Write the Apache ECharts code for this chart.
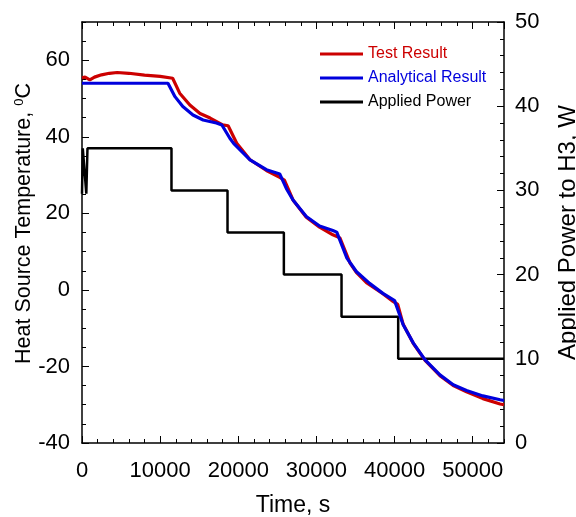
<!DOCTYPE html>
<html>
<head>
<meta charset="utf-8">
<title>Heat Source Temperature</title>
<script src="https://cdn.jsdelivr.net/npm/echarts@6/dist/echarts.min.js"></script>
<style>
  html, body { margin: 0; padding: 0; background: #fff; }
  #main { width: 576px; height: 517px; }
</style>
</head>
<body>
<div id="main"></div>
<script type="text/javascript">
// test result (measured)
var testTime = [0, 400, 1000, 1600, 2500, 3500, 4500, 6000, 8000, 10000,
  11600, 12500, 13800, 15100, 16400, 18000, 18700, 19800, 21500, 23600,
  25300, 25900, 27000, 28700, 30400, 32100, 33000, 34300, 35100, 36400,
  38500, 39800, 40400, 41100, 42400, 43900, 45800, 47500, 49200, 51300,
  53500, 54000];
var testTemp = [55.4, 55.6, 54.9, 55.6, 56.2, 56.6, 56.8, 56.6, 56.1, 55.8,
  55.3, 51.4, 48.3, 46.1, 44.9, 43.1, 42.9, 38.3, 34.0, 31.2,
  29.4, 28.7, 23.5, 19.0, 16.4, 14.4, 13.6, 7.0, 4.6, 1.9,
  -1.0, -3.0, -3.8, -9.0, -14.0, -18.4, -22.4, -25.0, -26.6, -28.4,
  -29.8, -30.0];

// analytical result
var anaTime = [0, 11000, 11900, 12900, 14200, 15500, 17200, 17900, 18900, 19400,
  21500, 23600, 25300, 26200, 27000, 28700, 30400, 32100, 32600, 33900, 35100,
  36800, 38500, 40000, 41100, 42400, 43900, 45800, 47500, 49200, 51300,
  53500, 54000];
var anaTemp = [54.0, 54.0, 50.5, 47.9, 45.7, 44.4, 43.6, 43.1, 39.7, 38.3,
  34.0, 31.4, 30.3, 26.3, 23.5, 19.2, 16.7, 15.5, 15.1, 8.3, 4.8,
  1.7, -0.9, -2.8, -9.1, -13.9, -18.3, -22.2, -24.8, -26.3, -27.7,
  -28.7, -28.9];

// applied power (step profile)
var powerTime = [0, 100, 550, 700, 11450, 11450, 18620, 18620, 25830, 25830, 33210, 33210, 40460, 40460, 54000];
var powerValue = [29.6, 35, 29.6, 35, 35, 30, 30, 25, 25, 20, 20, 15, 15, 10, 10];

function zip(a, b) {
  var out = [];
  for (var i = 0; i < a.length; i++) out.push([a[i], b[i]]);
  return out;
}

var FONT = "'Liberation Sans', Arial, sans-serif";
var RED = '#cc0000', BLUE = '#0000dd', BLACK = '#000000';

var myChart = echarts.init(document.getElementById('main'));

// extra axes that only carry tick marks (minor ticks, top mirror)
var tickAxis = function (pos, interval, len, showLine) {
  return {
    type: 'value', position: pos, min: 0, max: 54000, interval: interval,
    axisLine: { show: showLine, onZero: false, lineStyle: { color: '#000', width: 1.5 } },
    axisTick: { show: true, inside: true, length: len, lineStyle: { color: '#000', width: 1 } },
    axisLabel: { show: false },
    splitLine: { show: false }
  };
};

var option = {
  animation: false,
  backgroundColor: '#fff',
  textStyle: { fontFamily: FONT },
  grid: { left: 82, right: 72, top: 22, bottom: 74, containLabel: false, outerBoundsMode: 'none' },
  legend: {
    orient: 'vertical',
    left: 315, top: 41,
    icon: 'rect',
    itemWidth: 43, itemHeight: 3, itemGap: 8,
    textStyle: { fontFamily: FONT, fontSize: 16 },
    data: [
      { name: 'Test Result', textStyle: { color: RED } },
      { name: 'Analytical Result', textStyle: { color: BLUE } },
      { name: 'Applied Power', textStyle: { color: BLACK } }
    ]
  },
  xAxis: [
    {
      type: 'value', position: 'bottom', min: 0, max: 54000, interval: 10000,
      name: 'Time, s', nameLocation: 'middle', nameGap: 51, nameMoveOverlap: false,
      nameTextStyle: { fontFamily: FONT, fontSize: 23, color: '#000' },
      axisLine: { onZero: false, lineStyle: { color: '#000', width: 1.5 } },
      axisTick: { inside: true, length: 7, lineStyle: { color: '#000' } },
      axisLabel: {
        showMaxLabel: false, margin: 17, fontFamily: FONT, fontSize: 22, color: '#000',
        formatter: function (v) { return String(v); }
      },
      splitLine: { show: false }
    },
    tickAxis('bottom', 2000, 4, false),
    tickAxis('top', 10000, 7, true),
    tickAxis('top', 2000, 4, false)
  ],
  yAxis: [
    {
      type: 'value', position: 'left', min: -40, max: 70, interval: 20,
      name: 'Heat Source Temperature, {sup|0}C', nameLocation: 'middle', nameGap: 47,
      nameMoveOverlap: false,
      nameTextStyle: {
        fontFamily: FONT, fontSize: 21.5, color: '#000', padding: [0, 0, 0, 18],
        rich: { sup: { fontFamily: FONT, fontSize: 13, color: '#000', verticalAlign: 'top', padding: [0, 0, 9, 0] } }
      },
      axisLine: { onZero: false, lineStyle: { color: '#000', width: 1.5 } },
      axisTick: { inside: true, length: 7, lineStyle: { color: '#000' } },
      axisLabel: { showMaxLabel: false, margin: 12, fontFamily: FONT, fontSize: 22, color: '#000' },
      splitLine: { show: false }
    },
    {
      type: 'value', position: 'right', min: 0, max: 50, interval: 10,
      name: 'Applied Power to H3, W', nameLocation: 'middle', nameGap: 52, nameRotate: 90,
      nameMoveOverlap: false,
      nameTextStyle: { fontFamily: FONT, fontSize: 24, color: '#000' },
      axisLine: { onZero: false, lineStyle: { color: '#000', width: 1.5 } },
      axisTick: { inside: true, length: 7, lineStyle: { color: '#000' } },
      minorTick: { show: true, splitNumber: 5, length: 4, lineStyle: { color: '#000' } },
      axisLabel: { margin: 11, fontFamily: FONT, fontSize: 22, color: '#000' },
      splitLine: { show: false }
    },
    {
      type: 'value', position: 'left', min: -40, max: 70, interval: 5,
      axisLine: { show: false, onZero: false },
      axisTick: { inside: true, length: 4, lineStyle: { color: '#000' } },
      axisLabel: { show: false },
      splitLine: { show: false }
    }
  ],
  series: [
    {
      name: 'Applied Power', type: 'line', xAxisIndex: 0, yAxisIndex: 1,
      symbol: 'none', z: 2,
      lineStyle: { color: BLACK, width: 2.5 }, itemStyle: { color: BLACK },
      data: zip(powerTime, powerValue)
    },
    {
      name: 'Test Result', type: 'line', xAxisIndex: 0, yAxisIndex: 0,
      symbol: 'none', z: 3,
      lineStyle: { color: RED, width: 3.2 }, itemStyle: { color: RED },
      data: zip(testTime, testTemp)
    },
    {
      name: 'Analytical Result', type: 'line', xAxisIndex: 0, yAxisIndex: 0,
      symbol: 'none', z: 4,
      lineStyle: { color: BLUE, width: 3.2 }, itemStyle: { color: BLUE },
      data: zip(anaTime, anaTemp)
    }
  ]
};

myChart.setOption(option);
</script>
</body>
</html>
